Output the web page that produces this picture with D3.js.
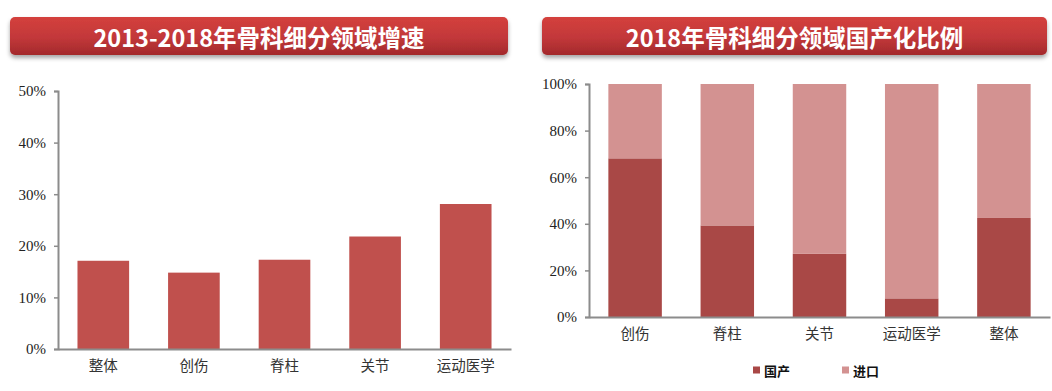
<!DOCTYPE html>
<html>
<head>
<meta charset="utf-8">
<script src="https://cdn.jsdelivr.net/npm/d3@7"></script>
<style>
  body { margin: 0; background: #fff; }
  svg { display: block; }
  .tick text { font-family: "Liberation Serif", "DejaVu Serif", serif; font-size: 15px; fill: #222; }
  .cat .tick text { font-family: "Noto Sans CJK SC", sans-serif; font-size: 14.5px; fill: #333; }
</style>
</head>
<body>
<svg width="1052" height="391"></svg>
<script>
// left chart: growth 2013-2018
const growthCats = ["整体", "创伤", "脊柱", "关节", "运动医学"];
const growthVals = [0.171, 0.148, 0.173, 0.218, 0.281];
const growthTicks = [0, 0.1, 0.2, 0.3, 0.4, 0.5];

// right chart: share 2018
const shareCats = ["创伤", "脊柱", "关节", "运动医学", "整体"];
const domestic = [0.681, 0.393, 0.271, 0.080, 0.425];
const imported = domestic.map(d => 1 - d);
const shareTicks = [0, 0.2, 0.4, 0.6, 0.8, 1];
const seriesNames = ["国产", "进口"];

const svg = d3.select("svg");

const defs = svg.append("defs");
const grad = defs.append("linearGradient").attr("id", "banner").attr("x1", 0).attr("y1", 0).attr("x2", 0).attr("y2", 1);
grad.append("stop").attr("offset", "0%").attr("stop-color", "#d4403c");
grad.append("stop").attr("offset", "55%").attr("stop-color", "#c2383a");
grad.append("stop").attr("offset", "100%").attr("stop-color", "#a3292b");
const shadow = defs.append("filter").attr("id", "shadow").attr("x", "-5%").attr("y", "-20%").attr("width", "110%").attr("height", "160%");
shadow.append("feDropShadow").attr("dx", 0).attr("dy", 3).attr("stdDeviation", 2).attr("flood-color", "#000").attr("flood-opacity", 0.35);

function banner(x0, x1, title) {
    svg.append("rect")
        .attr("x", x0).attr("y", 17).attr("width", x1 - x0).attr("height", 38)
        .attr("rx", 5)
        .attr("fill", "url(#banner)")
        .attr("filter", "url(#shadow)");
    svg.append("text")
        .attr("x", (x0 + x1) / 2).attr("y", 37)
        .attr("text-anchor", "middle")
        .attr("dominant-baseline", "central")
        .style("font-family", "'Noto Sans CJK SC', sans-serif")
        .style("font-weight", "bold")
        .style("font-size", "23.5px")
        .attr("fill", "#fff")
        .text(title);
}

banner(10, 508, "2013-2018年骨科细分领域增速");
banner(542, 1047, "2018年骨科细分领域国产化比例");

function styleAxis(g) {
    g.selectAll(".domain").attr("stroke", "#8c8c8c").attr("stroke-width", 2);
    g.selectAll(".tick line").attr("stroke", "#8c8c8c").attr("stroke-width", 1.5);
}

// ---- left chart
const x1 = d3.scaleBand().domain(growthCats).range([58, 511]).paddingInner(0.43).paddingOuter(0.215);
const y1 = d3.scaleLinear().domain([0, 0.5]).range([349, 91]);

svg.append("g")
    .selectAll("rect")
    .data(growthCats)
    .join("rect")
    .attr("x", d => x1(d))
    .attr("width", x1.bandwidth())
    .attr("y", (d, i) => y1(growthVals[i]))
    .attr("height", (d, i) => y1(0) - y1(growthVals[i]))
    .attr("fill", "#c0504d");

svg.append("g")
    .attr("transform", "translate(58,0)")
    .call(d3.axisLeft(y1).tickValues(growthTicks).tickFormat(d3.format(".0%")).tickSize(4).tickPadding(8))
    .call(styleAxis);

svg.append("g")
    .attr("class", "cat")
    .attr("transform", "translate(0,349)")
    .call(d3.axisBottom(x1).tickSize(0).tickPadding(12).tickSizeOuter(0))
    .call(styleAxis);

// ---- right chart
const x2 = d3.scaleBand().domain(shareCats).range([589, 1050]).paddingInner(0.42).paddingOuter(0.21);
const y2 = d3.scaleLinear().domain([0, 1]).range([317, 84]);

const rows = shareCats.map((c, i) => ({cat: c, "国产": domestic[i], "进口": imported[i]}));
const stack = d3.stack().keys(seriesNames)(rows);
const color2 = d3.scaleOrdinal().domain(seriesNames).range(["#a94846", "#d39291"]);

svg.append("g")
    .selectAll("g")
    .data(stack)
    .join("g")
    .attr("fill", d => color2(d.key))
    .selectAll("rect")
    .data(d => d)
    .join("rect")
    .attr("x", d => x2(d.data.cat))
    .attr("width", x2.bandwidth())
    .attr("y", d => y2(d[1]))
    .attr("height", d => y2(d[0]) - y2(d[1]));

svg.append("g")
    .attr("transform", "translate(589,0)")
    .call(d3.axisLeft(y2).tickValues(shareTicks).tickFormat(d3.format(".0%")).tickSize(4).tickPadding(8))
    .call(styleAxis);

svg.append("g")
    .attr("class", "cat")
    .attr("transform", "translate(0,317)")
    .call(d3.axisBottom(x2).tickSize(0).tickPadding(12).tickSizeOuter(0))
    .call(styleAxis);

// legend
const legendX = [753, 842];
const legend = svg.append("g")
    .selectAll("g")
    .data(seriesNames)
    .join("g")
    .attr("transform", (d, i) => `translate(${legendX[i]},370)`);
legend.append("rect")
    .attr("x", 0).attr("y", -3.5).attr("width", 7).attr("height", 7)
    .attr("fill", d => color2(d));
legend.append("text")
    .attr("x", 11).attr("y", 0)
    .attr("dominant-baseline", "central")
    .style("font-family", "'Noto Sans CJK SC', serif")
    .style("font-weight", "bold")
    .style("font-size", "13px")
    .attr("fill", "#111")
    .text(d => d);
</script>
</body>
</html>
